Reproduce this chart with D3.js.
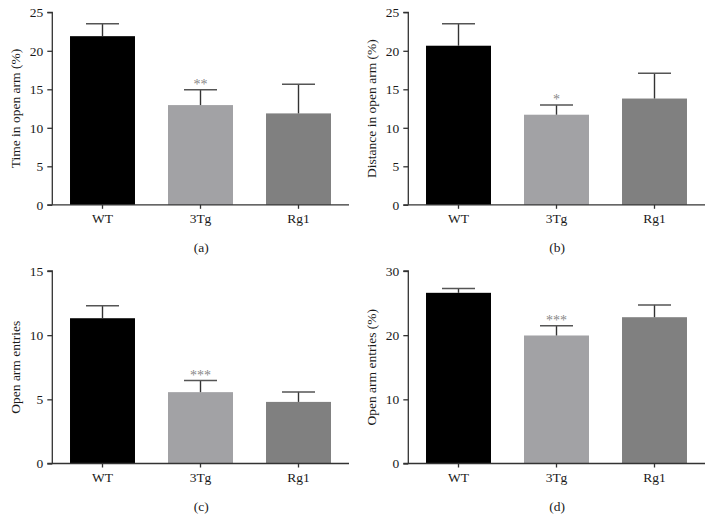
<!DOCTYPE html>
<html>
<head>
<meta charset="utf-8">
<script src="https://cdn.jsdelivr.net/npm/d3@7/dist/d3.min.js"></script>
<style>
  html, body { margin: 0; padding: 0; background: #fff; }
  svg { display: block; }
  text { font-family: "Liberation Serif", "DejaVu Serif", serif; fill: #1a1a1a; }
</style>
</head>
<body>
<svg id="chart" width="712" height="530"></svg>
<script>
const groups = ["WT", "3Tg", "Rg1"];
const barColors = ["#000000", "#a2a2a5", "#808080"];

const meansA = [21.9, 12.95, 11.87];
const errA   = [23.5, 14.95, 15.65];
const starsA = ["", "**", ""];

const meansB = [20.66, 11.7, 13.8];
const errB   = [23.52, 12.95, 17.07];
const starsB = ["", "*", ""];

const meansC = [11.32, 5.56, 4.8];
const errC   = [12.3, 6.46, 5.58];
const starsC = ["", "***", ""];

const meansD = [26.6, 19.95, 22.8];
const errD   = [27.26, 21.45, 24.72];
const starsD = ["", "***", ""];

const panels = [
  { ox: 0,   oy: 0,   max: 25, ticks: [0,5,10,15,20,25], title: "Time in open arm (%)",     label: "(a)", means: meansA, err: errA, stars: starsA },
  { ox: 356, oy: 0,   max: 25, ticks: [0,5,10,15,20,25], title: "Distance in open arm (%)", label: "(b)", means: meansB, err: errB, stars: starsB },
  { ox: 0,   oy: 258.7, max: 15, ticks: [0,5,10,15],     title: "Open arm entries",         label: "(c)", means: meansC, err: errC, stars: starsC },
  { ox: 356, oy: 258.7, max: 30, ticks: [0,10,20,30],    title: "Open arm entries (%)",     label: "(d)", means: meansD, err: errD, stars: starsD }
];

const svg = d3.select("#chart");
const axisLeft = 52.3, axisRight = 349;
const plotTop = 12.3, plotBottom = 204.8;
const FS = 13.5;

panels.forEach(p => {
  const g = svg.append("g").attr("transform", `translate(${p.ox},${p.oy})`);
  const x = d3.scaleBand().domain(groups).range([53.5, 347.5])
    .paddingInner(0.337).paddingOuter(0.1685);
  const y = d3.scaleLinear().domain([0, p.max]).range([plotBottom, plotTop]);

  g.selectAll("rect.bar").data(groups).enter().append("rect")
    .attr("class", "bar")
    .attr("x", d => x(d))
    .attr("width", x.bandwidth())
    .attr("y", (d, i) => y(p.means[i]))
    .attr("height", (d, i) => y(0) - y(p.means[i]))
    .attr("fill", (d, i) => barColors[i]);

  groups.forEach((d, i) => {
    const cx = x(d) + x.bandwidth() / 2;
    g.append("line")
      .attr("x1", cx).attr("x2", cx)
      .attr("y1", y(p.means[i])).attr("y2", y(p.err[i]))
      .attr("stroke", "#333").attr("stroke-width", 1.4);
    g.append("line")
      .attr("x1", cx - 16.5).attr("x2", cx + 16.5)
      .attr("y1", y(p.err[i])).attr("y2", y(p.err[i]))
      .attr("stroke", "#555").attr("stroke-width", 1.5);
    if (p.stars[i]) {
      g.append("text")
        .attr("x", cx).attr("y", y(p.err[i]) - 1)
        .attr("text-anchor", "middle")
        .style("font-size", "14px")
        .style("fill", "#888")
        .text(p.stars[i]);
    }
  });

  const ya = g.append("g").attr("transform", `translate(${axisLeft},0)`)
    .call(d3.axisLeft(y).tickValues(p.ticks).tickSize(5).tickPadding(4).tickFormat(d3.format("d")));
  ya.select(".domain").attr("stroke", "#333").attr("stroke-width", 1.3).attr("d", `M-5,${plotTop}H0V${plotBottom}`);
  ya.selectAll(".tick line").attr("stroke", "#333").attr("stroke-width", 1.3);
  ya.selectAll(".tick text").style("font-size", FS + "px").style("font-family", "Liberation Serif, serif").style("fill", "#1a1a1a");

  const xa = g.append("g").attr("transform", `translate(0,${plotBottom})`)
    .call(d3.axisBottom(x).tickSize(4).tickPadding(5));
  xa.select(".domain").attr("stroke", "#333").attr("stroke-width", 1.3).attr("d", `M${axisLeft - 5},0H${axisRight}`);
  xa.selectAll(".tick line").attr("stroke", "#333").attr("stroke-width", 1.3);
  xa.selectAll(".tick text").style("font-size", FS + "px").style("font-family", "Liberation Serif, serif").style("fill", "#1a1a1a");

  g.append("text")
    .attr("transform", `translate(19.5,${(plotTop + plotBottom) / 2}) rotate(-90)`)
    .attr("text-anchor", "middle")
    .style("font-size", FS + "px")
    .text(p.title);

  g.append("text")
    .attr("x", (axisLeft + axisRight) / 2 + 0.5)
    .attr("y", 252)
    .attr("text-anchor", "middle")
    .style("font-size", FS + "px")
    .text(p.label);
});
</script>
</body>
</html>
